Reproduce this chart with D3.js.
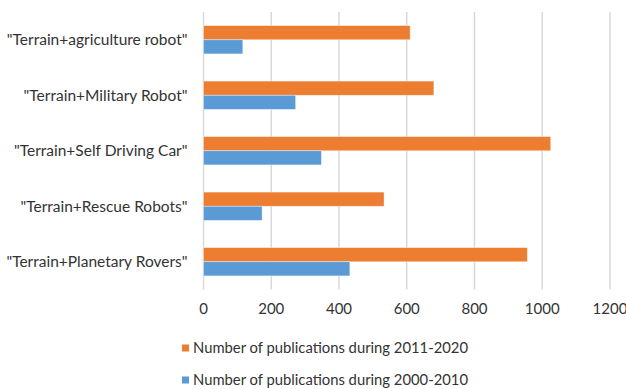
<!DOCTYPE html>
<html>
<head>
<meta charset="utf-8">
<script src="https://cdn.jsdelivr.net/npm/d3@7"></script>
<style>
  body { margin: 0; background: #fff; }
  svg text { font-family: Lato, "Open Sans", sans-serif; fill: #333; }
</style>
</head>
<body>
<svg width="626" height="389"></svg>
<script>
(function (d3) {
  'use strict';

  const categories = [
    '"Terrain+agriculture robot"',
    '"Terrain+Military Robot"',
    '"Terrain+Self Driving Car"',
    '"Terrain+Rescue Robots"',
    '"Terrain+Planetary Rovers"'
  ];
  const pubs2011 = [610, 680, 1025, 533, 956];
  const pubs2000 = [116, 272, 348, 173, 432];
  const seriesNames = [
    'Number of publications during 2011-2020',
    'Number of publications during 2000-2010'
  ];
  const xTicks = [0, 200, 400, 600, 800, 1000, 1200];
  const colors = ['#ED7D31', '#5B9BD5'];

  const svg = d3.select('svg');
  const margin = { top: 12, left: 203.5 };

  const x = d3.scaleLinear().domain([0, 1200]).range([0, 406.5]);
  const y = d3.scaleBand().domain(categories).range([0, 277.5]).paddingInner(0.49).paddingOuter(0.245);
  const ySeries = d3.scaleBand().domain([0, 1]).range([0, y.bandwidth()]);

  const g = svg.append('g').attr('transform', `translate(${margin.left},${margin.top})`);

  // gridlines
  g.selectAll('.grid')
    .data(xTicks)
    .enter()
    .append('line')
    .attr('x1', d => x(d)).attr('x2', d => x(d))
    .attr('y1', 0).attr('y2', 277.5)
    .attr('stroke', '#d9d9d9')
    .attr('stroke-width', 1.5);

  const series = [pubs2011, pubs2000];
  series.forEach((vals, si) => {
    g.selectAll('.bar' + si)
      .data(vals)
      .enter()
      .append('rect')
      .attr('x', 0)
      .attr('y', (d, i) => y(categories[i]) + ySeries(si))
      .attr('width', d => x(d))
      .attr('height', ySeries.bandwidth())
      .attr('fill', colors[si])
      .attr('stroke', '#fff')
      .attr('stroke-opacity', 0.5)
      .attr('stroke-width', 0.75);
  });

  // category labels
  g.selectAll('.cat')
    .data(categories)
    .enter()
    .append('text')
    .attr('x', -16)
    .attr('y', d => y(d) + y.bandwidth() / 2)
    .attr('dy', '0.35em')
    .attr('text-anchor', 'end')
    .attr('font-size', 15.5)
    .text(d => d);

  // x tick labels
  g.selectAll('.tick-label')
    .data(xTicks)
    .enter()
    .append('text')
    .attr('x', d => x(d))
    .attr('y', 297)
    .attr('dy', '0.35em')
    .attr('text-anchor', 'middle')
    .attr('font-size', 15)
    .text(d => d);

  // legend
  const legend = svg.selectAll('.legend')
    .data(seriesNames)
    .enter()
    .append('g')
    .attr('transform', (d, i) => `translate(182,${348 + i * 32})`);

  legend.append('rect')
    .attr('x', 0).attr('y', -3.5)
    .attr('width', 7).attr('height', 7)
    .attr('fill', (d, i) => colors[i]);

  legend.append('text')
    .attr('x', 11)
    .attr('y', 0)
    .attr('dy', '0.35em')
    .attr('font-size', 14.8)
    .text(d => d);

}(d3));
</script>
</body>
</html>
